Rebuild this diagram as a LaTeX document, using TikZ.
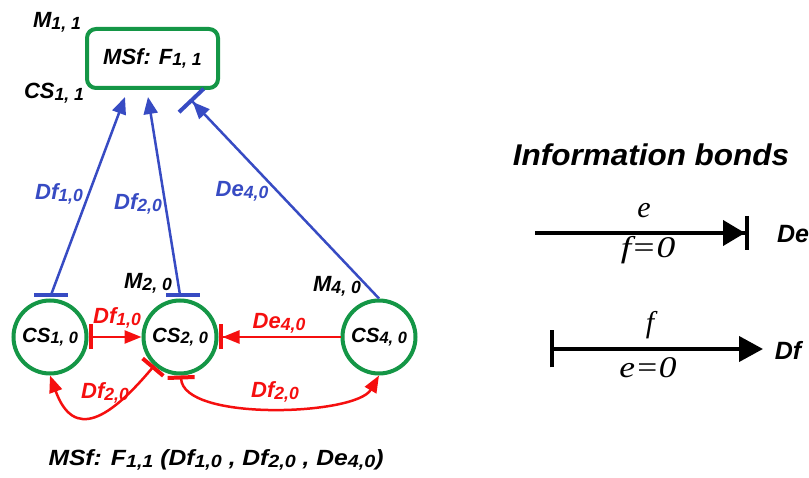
\documentclass[tikz,border=0pt]{standalone}
\usepackage{graphicx}
\usepackage{fontspec}
\setmainfont{Liberation Sans}
\newfontfamily\serifit{Liberation Serif}
\usetikzlibrary{arrows.meta}
\definecolor{cgreen}{RGB}{20,150,70}
\definecolor{cblue}{RGB}{55,75,195}
\definecolor{cred}{RGB}{245,15,15}
\newcommand{\subx}[1]{\raisebox{-0.08em}{\scalebox{0.8}{#1}}}
\newcommand{\widen}[2]{\scalebox{#1}[1]{#2}}
\tikzset{
  lbl/.style={font=\bfseries\itshape\fontsize{22}{26}\selectfont, inner sep=0pt},
  greenrect/.style={lbl, draw=cgreen, line width=4pt, rounded corners=9pt, minimum width=131pt, minimum height=59pt},
  greencirc/.style={lbl, font=\bfseries\itshape\fontsize{20.5}{24}\selectfont, circle, draw=cgreen, line width=4pt, minimum size=73pt},
  blueline/.style={draw=cblue, line width=2.5pt},
  bluebar/.style={draw=cblue, line width=4pt},
  redline/.style={draw=cred, line width=2.5pt},
  bluetxt/.style={lbl, text=cblue},
  redtxt/.style={lbl, text=cred},
  legline/.style={draw=black, line width=4pt},
  legtxt/.style={font=\serifit\itshape\fontsize{30}{32}\selectfont, inner sep=0pt},
  legname/.style={font=\bfseries\itshape\fontsize{25}{28}\selectfont, inner sep=0pt},
}
\begin{document}
\begin{tikzpicture}[x=1pt,y=1pt]
\useasboundingbox (0,0) rectangle (809,477);
% top model
\node[greenrect] (msf) at (152.5,418.5) {MSf: F\subx{1, 1}};
\node[lbl] (m11) at (57,455) {M\subx{1, 1}};
\node[lbl] (cs11) at (54,384) {CS\subx{1, 1}};
% components
\node[greencirc] (cs1) at (50,140) {CS\subx{1, 0}};
\node[greencirc] (cs2) at (180,140) {CS\subx{2, 0}};
\node[greencirc] (cs4) at (379,140) {CS\subx{4, 0}};
\node[lbl] (m20) at (148,194) {M\subx{2, 0}};
\node[lbl] (m40) at (337,191) {M\subx{4, 0}};
% end points under the rectangle, bar centres above the circles
\coordinate (t1) at (125,380);
\coordinate (t2) at (148,380);
\coordinate (t3) at (190,378);
\coordinate (c1top) at ([xshift=1pt,yshift=3.5pt]cs1.north);
\coordinate (c2top) at ([xshift=3pt,yshift=3.5pt]cs2.north);
% blue bonds
\draw[bluebar] ([xshift=-17pt]c1top) -- ([xshift=17pt]c1top);
\draw[bluebar] ([xshift=-17pt]c2top) -- ([xshift=17pt]c2top);
\draw[blueline, -{Triangle[length=17pt,width=14pt]}] (c1top) -- (t1);
\draw[blueline, -{Triangle[length=17pt,width=14pt]}] ([xshift=-3pt]c2top) -- (t2);
\draw[blueline, -{Triangle[length=17pt,width=14pt] Bar[width=34pt,line width=4pt]}] (cs4.north) -- (t3);
\node[bluetxt] (b1) at (59,283) {Df\subx{1,0}};
\node[bluetxt] (b2) at (138,273) {Df\subx{2,0}};
\node[bluetxt] (b3) at (242,286) {De\subx{4,0}};
% red bonds
\draw[redline, {Bar[width=25pt,line width=4pt]}-{Triangle[length=17pt,width=13pt]}] (cs1.east) -- (cs2.west);
\draw[redline, -{Triangle[length=17pt,width=13pt] Bar[width=25pt,line width=4pt]}] (cs4.west) -- (cs2.east);
\draw[redline, {Bar[width=27pt,line width=4pt]}-{Triangle[length=17pt,width=13pt]}] (cs2.228) to[out=-130,in=-70,looseness=1.7] (cs1.south);
\draw[redline, {Bar[width=27pt,line width=4pt]}-{Triangle[length=17pt,width=13pt]}] ([xshift=1pt]cs2.south) to[out=-88,in=-120,looseness=0.6] (cs4.south);
\node[redtxt] (r1) at (117,159) {Df\subx{1,0}};
\node[redtxt] (r2) at (279,154) {De\subx{4,0}};
\node[redtxt] (r3) at (105,84) {Df\subx{2,0}};
\node[redtxt] (r4) at (275,85) {Df\subx{2,0}};
% caption
\node[lbl] (cap) at (216,17) {\widen{1.12}{MSf: F\subx{1,1} (Df\subx{1,0} , Df\subx{2,0} , De\subx{4,0})}};
% legend
\node[lbl, font=\bfseries\itshape\fontsize{30}{34}\selectfont] (title) at (651,322) {\widen{1.05}{Information bonds}};
\coordinate (l1a) at (535,244);
\coordinate (l1b) at (749,244);
\draw[legline, -{Triangle[length=22pt,width=25pt] Bar[width=34pt,line width=4pt]}] (l1a) -- (l1b);
\node[legtxt] (le) at (644,266) {e};
\node[legtxt] (lf0) at (648,227) {\widen{1.25}{f=0}};
\node[legname] (lde) at (793,243) {De};
\coordinate (l2a) at (550,128);
\coordinate (l2b) at (763,128);
\draw[legline, {Bar[width=37pt,line width=4pt]}-{Triangle[length=24pt,width=25pt]}] (l2a) -- (l2b);
\node[legtxt] (lf) at (650,152) {f};
\node[legtxt] (le0) at (648,109) {\widen{1.18}{e=0}};
\node[legname] (ldf) at (788,127) {Df};
\end{tikzpicture}
\end{document}
